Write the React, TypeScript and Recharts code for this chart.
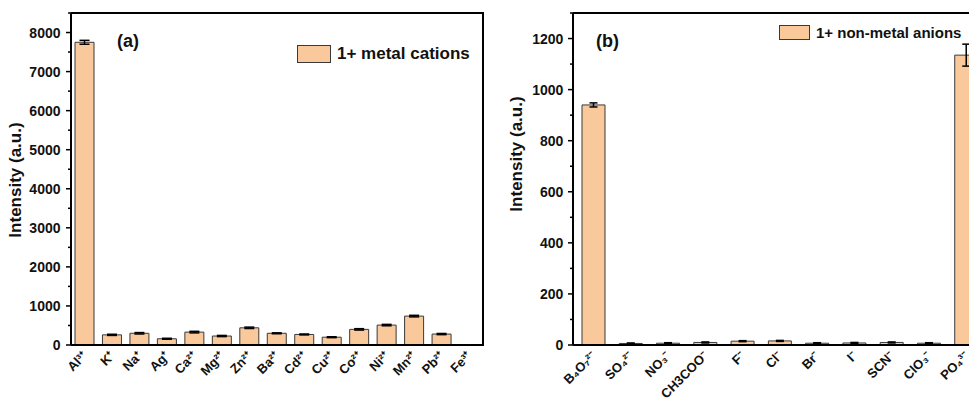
import { BarChart, Bar, XAxis, YAxis, ErrorBar, ReferenceLine } from "recharts";

// panel (a): metal cations
const cationLabels = ["Al³⁺", "K⁺", "Na⁺", "Ag⁺", "Ca²⁺", "Mg²⁺", "Zn²⁺", "Ba²⁺", "Cd²⁺", "Cu²⁺", "Co²⁺", "Ni²⁺", "Mn²⁺", "Pb²⁺", "Fe³⁺"];
const cationIntensity = [7750, 260, 300, 160, 330, 230, 440, 300, 270, 200, 400, 510, 740, 280, 5];
const cationError = [50, 15, 18, 12, 20, 15, 18, 12, 12, 12, 18, 18, 20, 15, 2];
const cationTicks = [0, 500, 1000, 1500, 2000, 2500, 3000, 3500, 4000, 4500, 5000, 5500, 6000, 6500, 7000, 7500, 8000, 8500];

// panel (b): non-metal anions
const anionLabels = ["B₄O₇²⁻", "SO₄²⁻", "NO₃⁻", "CH3COO⁻", "F⁻", "Cl⁻", "Br⁻", "I⁻", "SCN⁻", "ClO₃⁻", "PO₄³⁻"];
const anionIntensity = [940, 6, 7, 10, 15, 16, 7, 8, 10, 7, 1135];
const anionError = [8, 2, 2, 2, 2, 2, 2, 2, 2, 2, 43];
const anionTicks = [0, 100, 200, 300, 400, 500, 600, 700, 800, 900, 1000, 1100, 1200, 1300];

const FONT = "'Liberation Sans', Arial, sans-serif";
const FILL = "#F9C89B";
const EDGE = "#3a3a3a";

const cationData = cationLabels.map((label, i) => ({ label, v: cationIntensity[i], err: cationError[i] }));
const anionData = anionLabels.map((label, i) => ({ label, v: anionIntensity[i], err: anionError[i] }));

function XTick(props: any) {
  const { x, y, payload } = props;
  const tx = x + 3;
  const ty = y + 4;
  return (
    <g>
      <text x={tx} y={ty} textAnchor="end" transform={`rotate(-45 ${tx} ${ty})`} fontSize={13} fontWeight={700} fontFamily={FONT} fill="#111">
        {payload.value}
      </text>
    </g>
  );
}

const makeYTick = (major: number, gap: number) => (props: any) => {
  const { x, y, payload } = props;
  const isMajor = payload.value % major === 0;
  return (
    <g>
      <line x1={x - (isMajor ? 5 : 3)} x2={x} y1={y} y2={y} stroke="#000" strokeWidth={1.5} />
      {isMajor && (
        <text x={x - gap} y={y} dy="0.36em" textAnchor="end" fontFamily={FONT} fontWeight={700} fontSize={14} fill="#111">
          {payload.value}
        </text>
      )}
    </g>
  );
};

function Panel({ data, ticks, max, major, gap, barSize, capW, margin, width, padLeft }: any) {
  return (
    <BarChart width={width} height={409} data={data} margin={margin}>
      <XAxis
        dataKey="label"
        interval={0}
        tickLine={false}
        height={50}
        padding={{ left: padLeft, right: 0 }}
        axisLine={{ stroke: "#000", strokeWidth: 2 }}
        tick={XTick}
      />
      <YAxis
        domain={[0, max]}
        ticks={ticks}
        interval={0}
        width={60}
        tickSize={0}
        tickMargin={0}
        tickLine={false}
        axisLine={{ stroke: "#000", strokeWidth: 2 }}
        tick={makeYTick(major, gap)}
      />
      <ReferenceLine y={max} stroke="#000" strokeWidth={2} />
      <Bar dataKey="v" fill={FILL} stroke={EDGE} strokeWidth={1} barSize={barSize} isAnimationActive={false}>
        <ErrorBar dataKey="err" width={capW} stroke="#000" strokeWidth={1.5} direction="y" />
      </Bar>
    </BarChart>
  );
}

const legendRow = (left: number, top: number, w: number, h: number, fs: number, text: string) => (
  <div style={{ position: "absolute", left, top, display: "flex", alignItems: "center", fontFamily: FONT, fontWeight: 700, fontSize: fs, color: "#111", whiteSpace: "nowrap" }}>
    <span style={{ display: "inline-block", width: w, height: h, background: FILL, border: `1px solid ${EDGE}`, boxSizing: "border-box", marginRight: 6 }} />
    <span>{text}</span>
  </div>
);

const yTitle = (cx: number, cy: number) => (
  <div
    style={{
      position: "absolute",
      left: cx - 80,
      top: cy - 10,
      width: 160,
      height: 20,
      lineHeight: "20px",
      textAlign: "center",
      transform: "rotate(-90deg)",
      fontFamily: FONT,
      fontWeight: 700,
      fontSize: 17,
      color: "#111",
    }}
  >
    Intensity (a.u.)
  </div>
);

export default function App() {
  return (
    <div style={{ margin: -8, width: 977, height: 409, position: "relative", display: "flex", background: "#fff" }}>
      <Panel
        data={cationData}
        ticks={cationTicks}
        max={8500}
        major={1000}
        gap={10.5}
        barSize={19}
        capW={5}
        width={490}
        padLeft={0}
        margin={{ top: 13, right: 7, left: 11, bottom: 14 }}
      />
      <Panel
        data={anionData}
        ticks={anionTicks}
        max={1300}
        major={200}
        gap={9.7}
        barSize={23}
        capW={4}
        width={487}
        padLeft={2}
        margin={{ top: 13, right: -8, left: 23, bottom: 14 }}
      />
      {/* right edge of the (a) frame */}
      <div style={{ position: "absolute", left: 482, top: 12, width: 2, height: 334, background: "#000" }} />
      {legendRow(297, 44, 34, 18, 17, "1+ metal cations")}
      {legendRow(779, 24, 31, 15, 15, "1+ non-metal anions")}
      <div style={{ position: "absolute", left: 117, top: 31, fontFamily: FONT, fontWeight: 700, fontSize: 18, color: "#111" }}>(a)</div>
      <div style={{ position: "absolute", left: 596, top: 31, fontFamily: FONT, fontWeight: 700, fontSize: 18, color: "#111" }}>(b)</div>
      {yTitle(16, 180)}
      {yTitle(517, 154)}
    </div>
  );
}
